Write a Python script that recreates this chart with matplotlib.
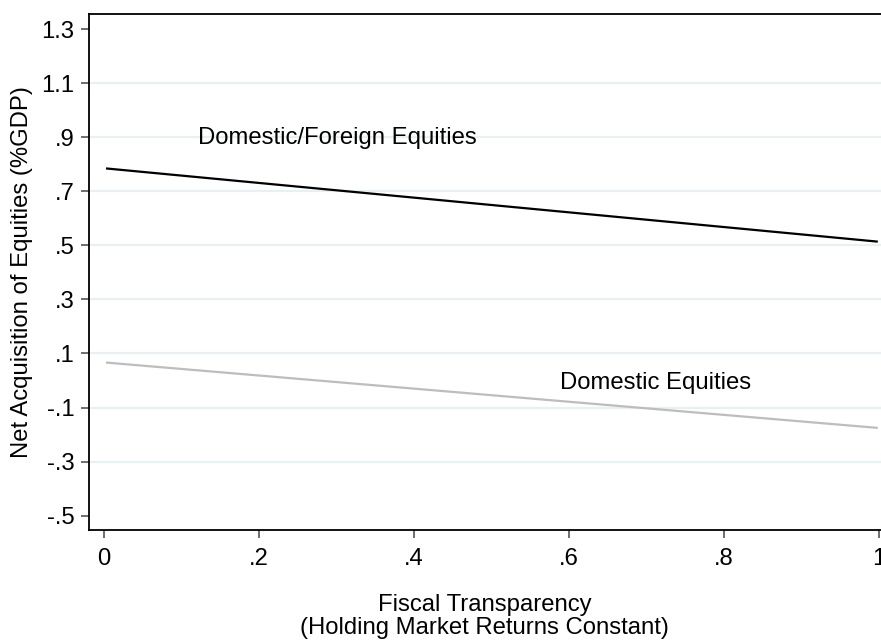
import matplotlib
matplotlib.use("Agg")
import matplotlib.pyplot as plt

plt.rcParams['font.family'] = ['Liberation Sans', 'DejaVu Sans']

x_vals = [0.004, 0.997]
dom_foreign = [0.784, 0.514]
domestic = [0.066, -0.175]
xticks = [0, 0.2, 0.4, 0.6, 0.8, 1.0]
xtick_labels = ['0', '.2', '.4', '.6', '.8', '1']
yticks = [-0.5, -0.3, -0.1, 0.1, 0.3, 0.5, 0.7, 0.9, 1.1, 1.3]
ytick_labels = ['-.5', '-.3', '-.1', '.1', '.3', '.5', '.7', '.9', '1.1', '1.3']
grid_vals = [-0.3, -0.1, 0.1, 0.3, 0.5, 0.7, 0.9, 1.1]

FS = 17.2
W, H = 881, 640
fig = plt.figure(figsize=(W / 100, H / 100), dpi=100)
ax_left, ax_right = 88.5, 894.5
ax_top, ax_bot = 14, 530
ax = fig.add_axes([ax_left / W, (H - ax_bot) / H, (ax_right - ax_left) / W, (ax_bot - ax_top) / H])

ax.set_xlim(-0.02, 1.02)
ax.set_ylim(-0.553, 1.3556)

for g in grid_vals:
    ax.axhline(g, color='#e8f0f3', lw=1.6, zorder=0)

ax.plot(x_vals, dom_foreign, color='black', lw=1.6, zorder=3)
ax.plot(x_vals, domestic, color='#bdbdbd', lw=1.6, zorder=3)

ax.text(0.121, 0.896, 'Domestic/Foreign Equities', fontsize=FS, va='center', ha='left')
ax.text(0.588, -0.011, 'Domestic Equities', fontsize=FS, va='center', ha='left')

ax.set_xticks(xticks)
ax.set_xticklabels(xtick_labels)
ax.set_yticks(yticks)
ax.set_yticklabels(ytick_labels)
ax.tick_params(axis='both', which='major', labelsize=FS, length=6, width=1.2,
               color='#555555', direction='out')
ax.tick_params(axis='y', pad=4)
ax.tick_params(axis='x', pad=7)

for s in ['left', 'bottom', 'top', 'right']:
    ax.spines[s].set_color('black')
    ax.spines[s].set_linewidth(1.3)

ax.set_ylabel('Net Acquisition of Equities (%GDP)', fontsize=FS, labelpad=6)
fig.text(484.5 / W, 1 - 611 / H, 'Fiscal Transparency',
         fontsize=FS, ha='center', va='baseline')
fig.text(484.5 / W, 1 - 634 / H, '(Holding Market Returns Constant)',
         fontsize=FS, ha='center', va='baseline')

fig.savefig('out.png', dpi=100, facecolor='white')
